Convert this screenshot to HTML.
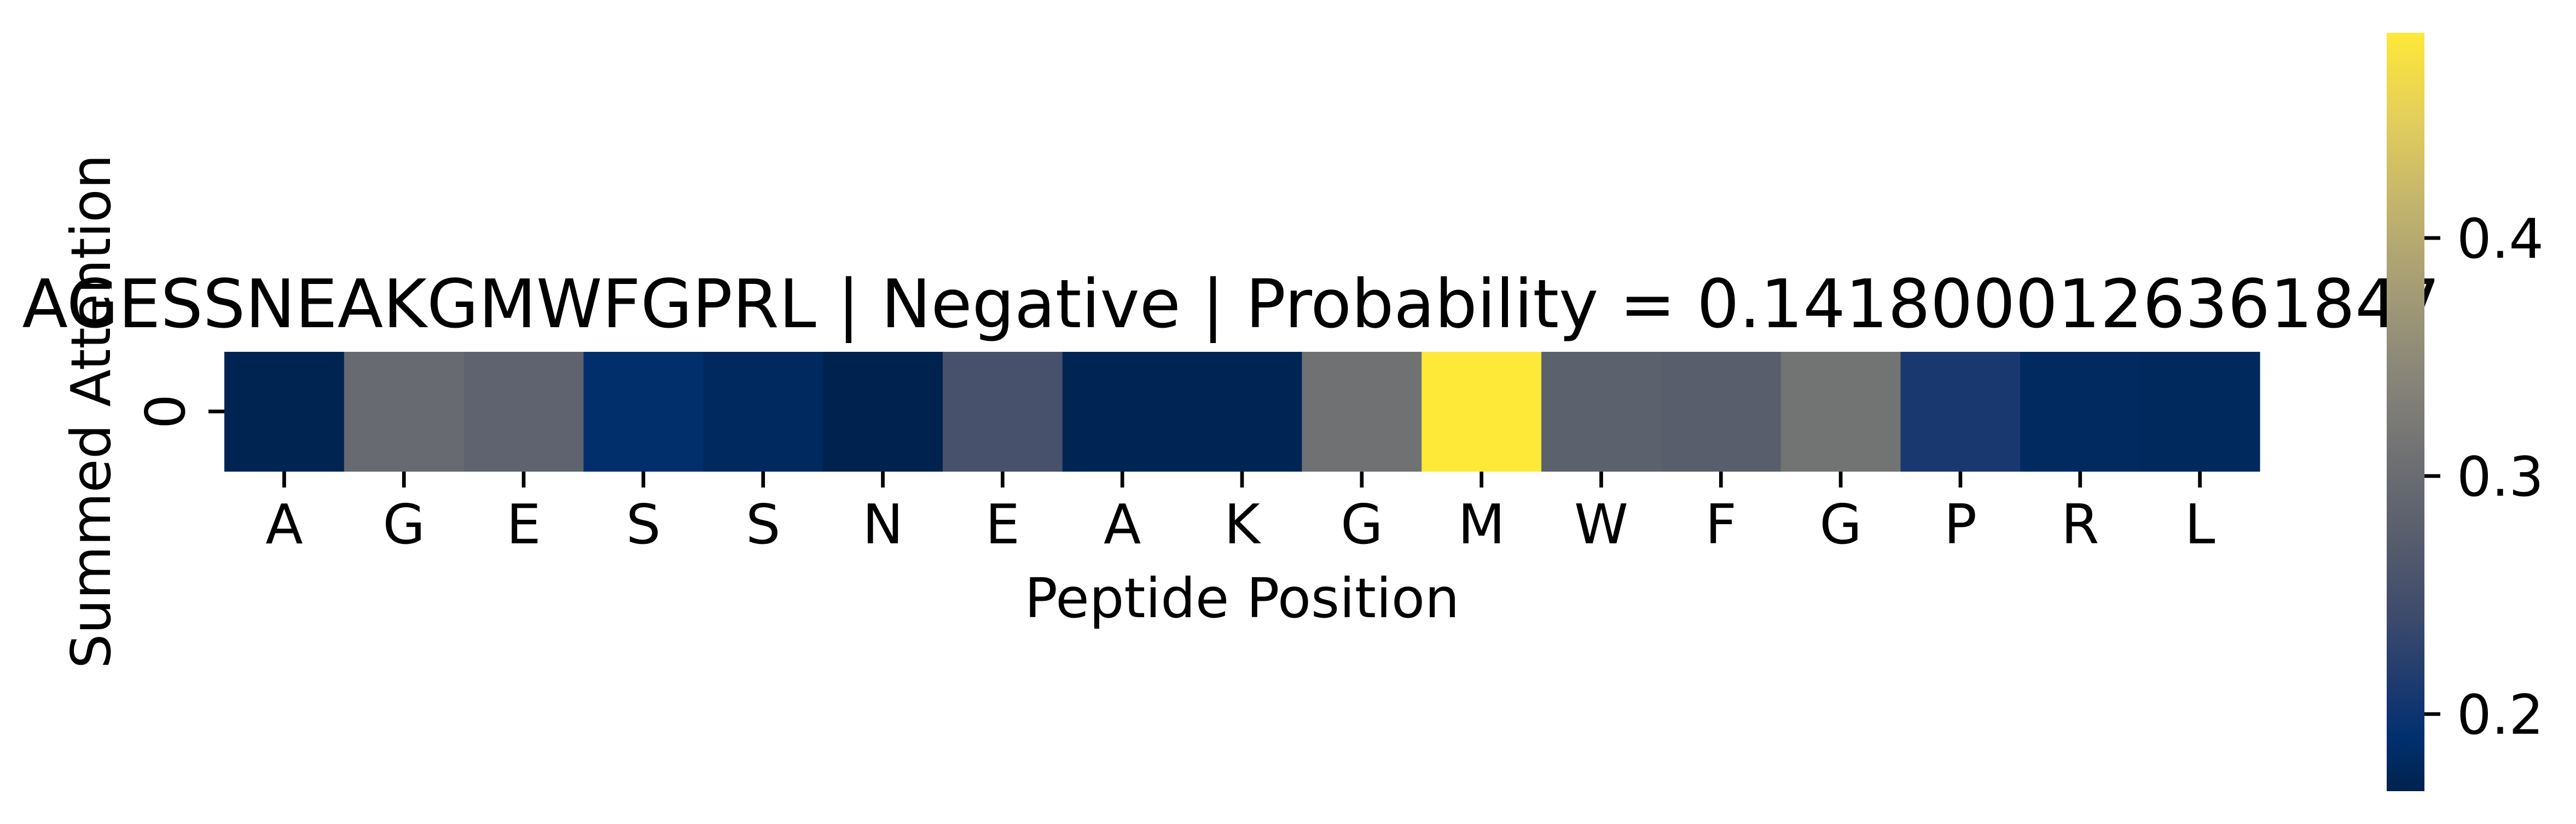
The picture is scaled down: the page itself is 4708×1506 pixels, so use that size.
<!DOCTYPE html>
<html><head><meta charset="utf-8"><style>
html,body{margin:0;padding:0;background:#fff;}
svg{display:block;font-family:"DejaVu Sans","Liberation Sans",sans-serif;}
</style></head><body>
<svg id="chart" width="4708" height="1506" viewBox="0 0 4708 1506" xmlns="http://www.w3.org/2000/svg">
<defs>
<linearGradient id="cbgrad" x1="0" y1="1" x2="0" y2="0"></linearGradient>
</defs>
<rect width="4708" height="1506" fill="#fff"/>
<g id="cells"></g>
<g id="xticks"></g>
<line x1="381" y1="752" x2="410" y2="752" stroke="#000" stroke-width="6.7"/>
<text x="337" y="752" font-size="100" text-anchor="middle" transform="rotate(-90 337 752)">0</text>
<text x="201" y="752" font-size="100" text-anchor="middle" transform="rotate(-90 201 752)">Summed Attention</text>
<text x="2270" y="1128" font-size="100" text-anchor="middle">Peptide Position</text>
<text x="2250" y="598" font-size="122" text-anchor="middle">AGESSNEAKGMWFGPRL | Negative | Probability = 0.1418000126361847</text>
<rect x="4362" y="60" width="69" height="1386" fill="url(#cbgrad)"/>
<g id="cbticks"></g>
</svg>
<script>
const residues = ["A","G","E","S","S","N","E","A","K","G","M","W","F","G","P","R","L"];
const attention = [0.170,0.296,0.285,0.188,0.179,0.1676,0.253,0.172,0.172,0.309,0.4862,0.281,0.276,0.312,0.209,0.180,0.178];
const cbTicks = [0.2,0.3,0.4];
const cbTickLabels = ["0.2","0.3","0.4"];
const vmin = 0.1676, vmax = 0.4862;

const NS = "http://www.w3.org/2000/svg";
const stops = [[0,"#00224e"],[0.07,"#00306f"],[0.111,"#123570"],[0.222,"#3b496c"],[0.333,"#575d6d"],[0.444,"#707173"],[0.556,"#8a8779"],[0.667,"#a69d75"],[0.778,"#c4b56c"],[0.889,"#e4cf5b"],[1,"#fee838"]];
function hex(h){return [1,3,5].map(i=>parseInt(h.substr(i,2),16));}
function cmap(t){
  t=Math.max(0,Math.min(1,t));
  for(let i=1;i<stops.length;i++){
    if(t<=stops[i][0]){
      const a=stops[i-1],b=stops[i],f=(t-a[0])/(b[0]-a[0]);
      const ca=hex(a[1]),cb=hex(b[1]);
      return "rgb("+ca.map((v,k)=>Math.round(v+(cb[k]-v)*f)).join(",")+")";
    }
  }
  return stops[stops.length-1][1];
}
const grad=document.getElementById("cbgrad");
stops.forEach(s=>{const st=document.createElementNS(NS,"stop");st.setAttribute("offset",s[0]);st.setAttribute("stop-color",s[1]);grad.appendChild(st);});

const X0=410, X1=4130, Y0=643, Y1=862;
const cw=(X1-X0)/residues.length;
const xPos=i=>X0+cw*i;
const colorOf=v=>cmap((v-vmin)/(vmax-vmin));
const cells=document.getElementById("cells"), xt=document.getElementById("xticks");
attention.forEach((v,i)=>{
  const r=document.createElementNS(NS,"rect");
  r.setAttribute("x",xPos(i));r.setAttribute("y",Y0);
  r.setAttribute("width",cw+0.6);r.setAttribute("height",Y1-Y0);
  r.setAttribute("fill",colorOf(v));
  
  
  cells.appendChild(r);
});
residues.forEach((s,i)=>{
  const cx=xPos(i)+cw/2;
  const l=document.createElementNS(NS,"line");
  l.setAttribute("x1",cx);l.setAttribute("x2",cx);l.setAttribute("y1",Y1);l.setAttribute("y2",Y1+29);
  l.setAttribute("stroke","#000");l.setAttribute("stroke-width","6.7");
  
  
  xt.appendChild(l);
  const t=document.createElementNS(NS,"text");
  t.setAttribute("x",cx);t.setAttribute("y",993);t.setAttribute("font-size","100");t.setAttribute("text-anchor","middle");
  t.textContent=s;
  
  
  xt.appendChild(t);
});
const CB0=60, CB1=1446;
const cbY=v=>CB1-(v-vmin)/(vmax-vmin)*(CB1-CB0);
const cbt=document.getElementById("cbticks");
cbTicks.forEach((v,i)=>{
  const y=cbY(v);
  const l=document.createElementNS(NS,"line");
  l.setAttribute("x1",4431);l.setAttribute("x2",4460);l.setAttribute("y1",y);l.setAttribute("y2",y);
  l.setAttribute("stroke","#000");l.setAttribute("stroke-width","6.7");
  
  
  cbt.appendChild(l);
  const t=document.createElementNS(NS,"text");
  t.setAttribute("x",4490);t.setAttribute("y",y+36);t.setAttribute("font-size","100");
  t.textContent=cbTickLabels[i];
  
  
  cbt.appendChild(t);
});
</script>
</body></html>
